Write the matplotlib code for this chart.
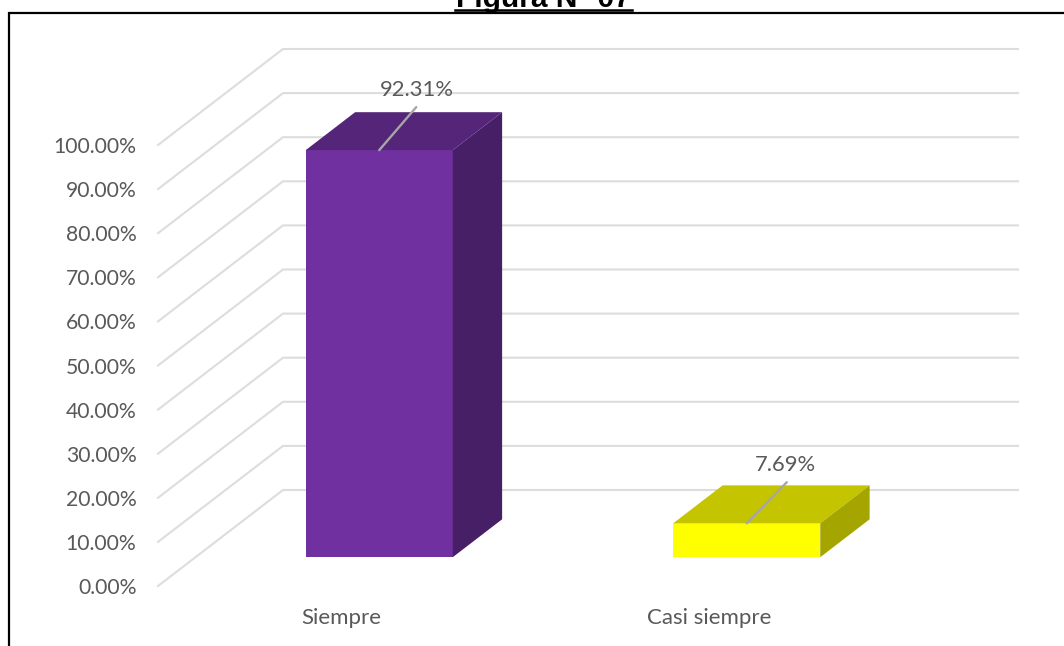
import matplotlib
matplotlib.use("Agg")
import matplotlib.pyplot as plt
from matplotlib.lines import Line2D

categories = ["Siempre", "Casi siempre"]
values = [92.31, 7.69]
positions = [0.5, 1.5]
tick_values = [0, 10, 20, 30, 40, 50, 60, 70, 80, 90, 100]
front_colors = ["#7030A0", "#FFFF00"]
top_colors = ["#552579", "#C4C400"]
side_colors = ["#471F66", "#A5A500"]
title = "Figura N° 07"

W, H = 1064, 646
DX = 125 / 367.5      # depth 1 shift in x units
DY = 96 / 4.41        # depth 1 shift in percent units
D0, D1 = 0.30, 0.695  # bar depth range
HALF = 0.2
GREY = "#595959"
plt.rcParams["font.family"] = ["Lato", "DejaVu Sans"]

fig = plt.figure(figsize=(W / 100, H / 100), dpi=100, facecolor="white")
ax = fig.add_axes([158 / W, (H - 586) / H, 735 / W, 441 / H])
ax.set_xlim(0, 2)
ax.set_ylim(0, 100)
for s in ax.spines.values():
    s.set_visible(False)
ax.patch.set_visible(False)


def pt(x, v, d):
    return x + DX * d, v + DY * d


for v in tick_values:
    a, b, c = pt(0, v, 0), pt(0, v, 1), pt(2, v, 1)
    ax.plot([a[0], b[0], c[0]], [a[1], b[1], c[1]], color="#DDDDDD", lw=1.5,
            clip_on=False, zorder=1, solid_joinstyle="miter")

label_offsets = [(37, 43, 38, 60), (40, 41, 39, 58)]
for x, v, fc, tc, sc, off in zip(positions, values, front_colors, top_colors, side_colors, label_offsets):
    l, r = x - HALF, x + HALF
    base = 0
    corners = [
        ([pt(l, base, D0), pt(r, base, D0), pt(r, v, D0), pt(l, v, D0)], fc),
        ([pt(l, v, D0), pt(r, v, D0), pt(r, v, D1), pt(l, v, D1)], tc),
        ([pt(r, base, D0), pt(r, base, D1), pt(r, v, D1), pt(r, v, D0)], sc),
    ]
    for poly, col in corners:
        ax.fill([p[0] for p in poly], [p[1] for p in poly], color=col, lw=0,
                clip_on=False, zorder=3)
    anchor = pt(x, v, D0)
    ax.annotate("", xy=anchor, xytext=(off[0] * 0.72, off[1] * 0.72),
                textcoords="offset points", annotation_clip=False, zorder=4,
                arrowprops=dict(arrowstyle="-", color="#A6A6A6", lw=1.7, shrinkA=0, shrinkB=0))
    ax.annotate(f"{v:.2f}%", xy=anchor, xytext=(off[2] * 0.72, off[3] * 0.72),
                textcoords="offset points", ha="center", va="center",
                color=GREY, fontsize=15.8, annotation_clip=False, zorder=5)

ax.set_yticks(tick_values)
ax.set_yticklabels([f"{v:.2f}%" for v in tick_values], color=GREY, fontsize=15.2)
ax.set_xticks(positions)
ax.set_xticklabels(categories, color=GREY, fontsize=16)
ax.tick_params(axis="y", length=0, pad=15.5)
ax.tick_params(axis="x", length=0, pad=16)

# outer frame, cut off by the picture's edges
fig.add_artist(Line2D([9 / W, 9 / W, 1], [0, (H - 13) / H, (H - 13) / H],
                      color="black", lw=1.6, solid_joinstyle="miter"))
# title and its underline
fig.text(543 / W, (H - 7) / H, title, ha="center", va="baseline",
         fontsize=21.5, fontweight="bold", color="black", family="Liberation Sans")
fig.add_artist(Line2D([455 / W, 632 / W], [(H - 10) / H] * 2, color="black", lw=1.8))

fig.savefig("out.png", dpi=100)
